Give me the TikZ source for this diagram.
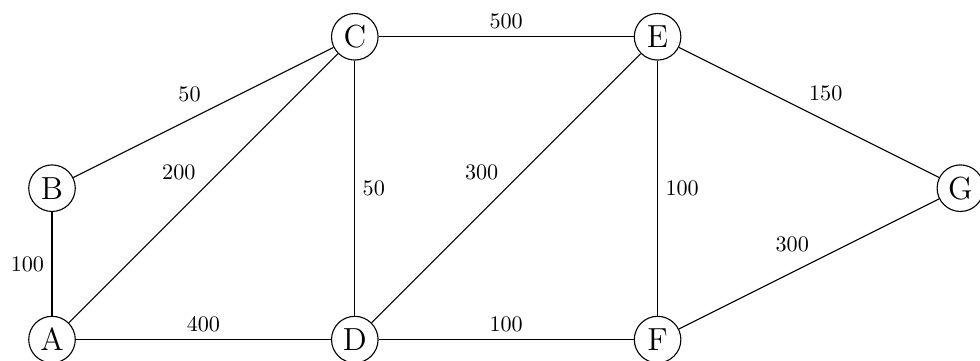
\documentclass[tikz,border=0pt]{standalone}
\begin{document}
\begin{tikzpicture}[x=1.2cm,y=1.2cm,line width=0.5pt,
    vertex/.style={circle,draw,font=\Large,inner sep=1pt,minimum size=21pt},
    weight/.style={fill=white}]
  \useasboundingbox (-0.687,-0.27) rectangle (12.259,4.486);
  \foreach \name/\x/\y in {A/0/0,B/0/2,C/4/4,D/4/0,E/8/4,F/8/0,G/12/2}{
    \node[vertex] (\name) at (\x,\y) {\name};
  }
  \draw (A) -- node[weight,left] {100} (B);
  \draw (A) -- node[weight,above left] {200} (C);
  \draw (B) -- node[weight,above left,pos=0.52] {50} (C);
  \draw (A) -- node[weight,above] {400} (D);
  \draw (C) -- node[weight,right] {50} (D);
  \draw (C) -- node[weight,above] {500} (E);
  \draw (D) -- node[weight,above left] {300} (E);
  \draw (D) -- node[weight,above] {100} (F);
  \draw (E) -- node[weight,right] {100} (F);
  \draw (E) -- node[weight,above right,pos=0.47] {150} (G);
  \draw (F) -- node[weight,above left,pos=0.53] {300} (G);
\end{tikzpicture}
\end{document}
